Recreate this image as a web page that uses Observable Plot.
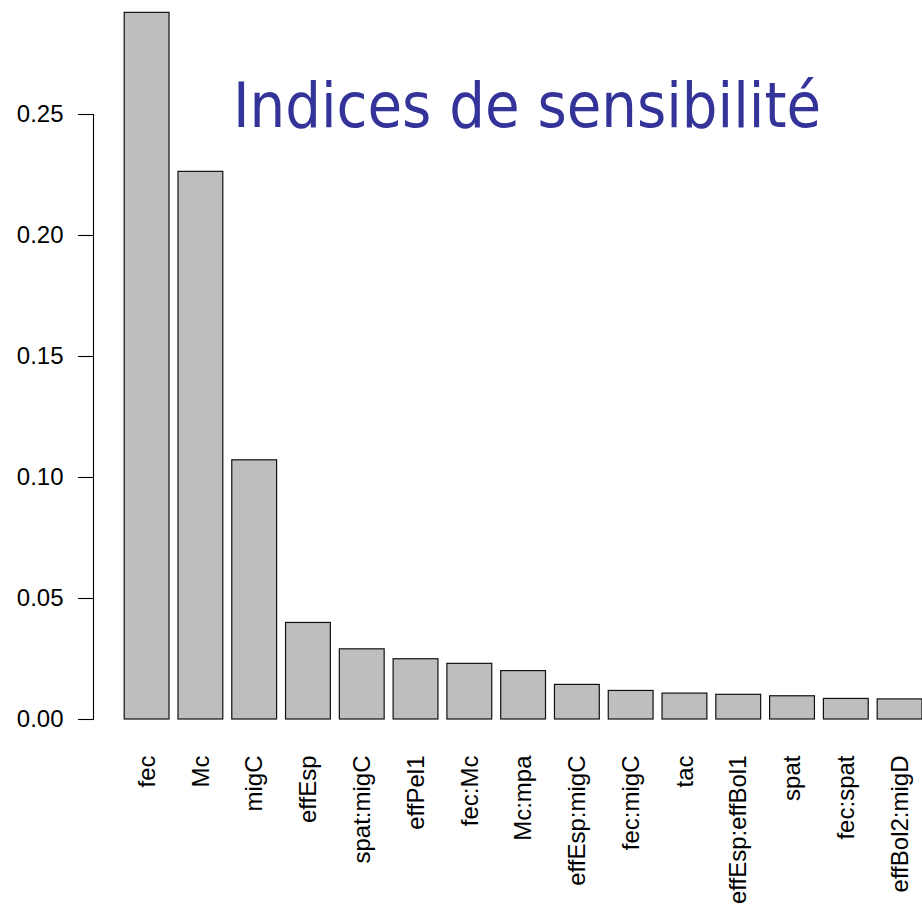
<!DOCTYPE html>
<html>
<head>
<meta charset="utf-8">
<script src="https://cdn.jsdelivr.net/npm/d3@7"></script>
<script src="https://cdn.jsdelivr.net/npm/@observablehq/plot@0.6"></script>
<style>
  html, body { margin: 0; padding: 0; background: #ffffff; }
  #wrap { position: relative; width: 922px; height: 905px; overflow: hidden; }
  #title {
    position: absolute; left: 233px; top: 74px;
    font-family: "DejaVu Sans Condensed", "DejaVu Sans", sans-serif;
    font-size: 62.5px; line-height: 63px; color: #333399; white-space: nowrap;
  }
</style>
</head>
<body>
<div id="wrap">
  <div id="chart"></div>
  <div id="title">Indices de sensibilité</div>
</div>
<script>
const factors = ["fec", "Mc", "migC", "effEsp", "spat:migC", "effPel1", "fec:Mc", "Mc:mpa",
  "effEsp:migC", "fec:migC", "tac", "effEsp:effBol1", "spat", "fec:spat", "effBol2:migD"];
const indices = [0.2920, 0.2263, 0.1071, 0.0399, 0.0290, 0.0249, 0.0230, 0.0200,
  0.0143, 0.0118, 0.0107, 0.0102, 0.0096, 0.0085, 0.0083];
const yTicks = [0, 0.05, 0.10, 0.15, 0.20, 0.25];

const data = factors.map((f, i) => ({factor: f, value: indices[i]}));

const chart = Plot.plot({
  width: 922,
  height: 905,
  marginLeft: 93,
  marginRight: 0,
  marginTop: 114,
  marginBottom: 186,
  style: {fontFamily: "'Liberation Sans', Arial, sans-serif", fontSize: "24px", background: "white", color: "black"},
  x: {domain: factors, paddingInner: 0.2 / 1.2, paddingOuter: 0.29, align: 1, round: false, label: null},
  y: {domain: [0, 0.25], label: null},
  marks: [
    Plot.barY(data, {x: "factor", y: "value", fill: "#bebebe", stroke: "#111111", strokeWidth: 1.2}),
    Plot.frame({anchor: "left", stroke: "black", strokeWidth: 1.1}),
    Plot.axisY({ticks: yTicks, tickFormat: d3.format(".2f"), tickSize: 15, tickPadding: 15,
      fontSize: 24, stroke: "black", strokeWidth: 1.1, label: null}),
    Plot.axisX({tickSize: 0, tickPadding: 36, tickRotate: -90, fontSize: 24, label: null})
  ]
});
document.getElementById("chart").appendChild(chart);
</script>
</body>
</html>
